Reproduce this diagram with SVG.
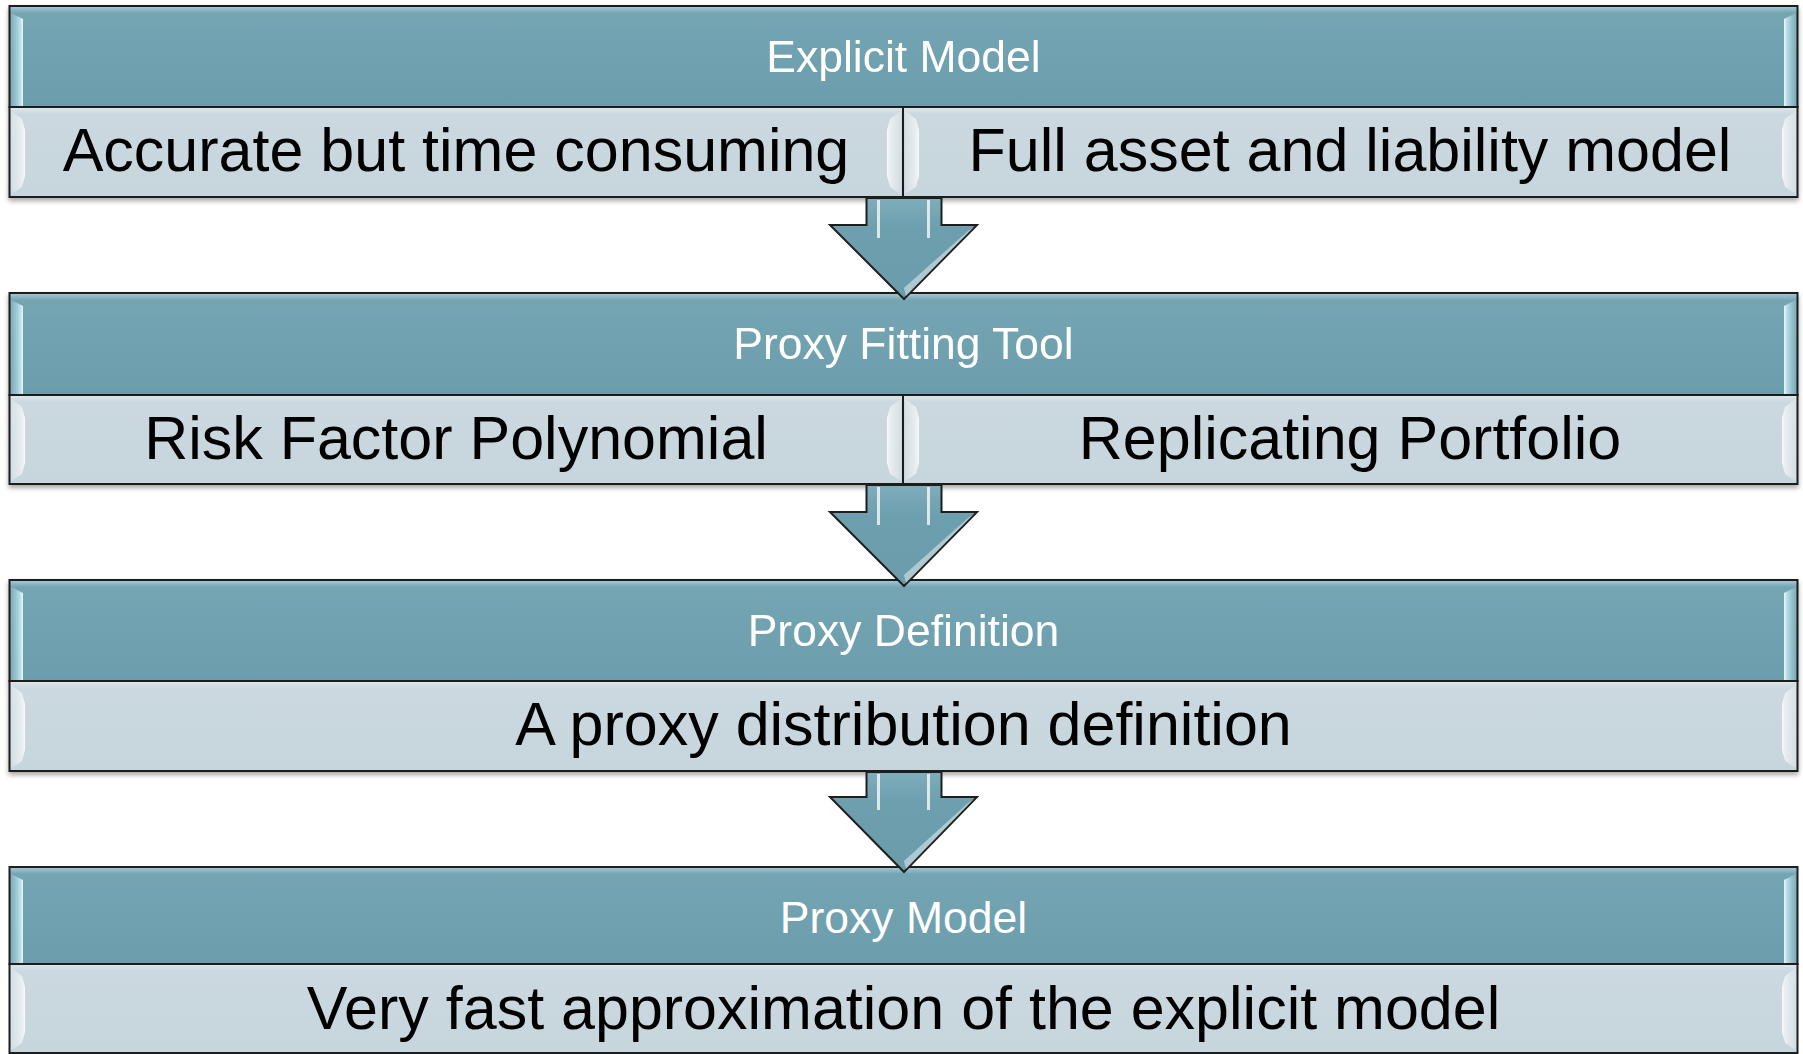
<svg xmlns="http://www.w3.org/2000/svg" width="1803" height="1054" viewBox="0 0 1803 1054">
<defs>
<style>
.hdr{fill:url(#gHdr);stroke:#1e1e1e;stroke-width:2}
.bdy{fill:url(#gBdy);stroke:#1e1e1e;stroke-width:2}
.ht{font-family:"Liberation Sans",Arial,sans-serif;font-size:44.5px;fill:#ffffff;text-anchor:middle}
.bt{font-family:"Liberation Sans",Arial,sans-serif;font-size:61px;fill:#000000;text-anchor:middle}
.hlL{fill:url(#gHlL)}
.hlR{fill:url(#gHlR)}
.bhL{fill:url(#gBhL)}
.bhR{fill:url(#gBhR)}
.arr{fill:url(#gArr);stroke:#1e1e1e;stroke-width:2;stroke-linejoin:miter}
.ash{fill:none;stroke:#ffffff;stroke-opacity:0.75;stroke-width:3}
</style>
<linearGradient id="gHdr" x1="0" y1="0" x2="0" y2="1">
<stop offset="0" stop-color="#a9cbd5"/>
<stop offset="0.07" stop-color="#75a5b3"/>
<stop offset="1" stop-color="#6b9dac"/>
</linearGradient>
<linearGradient id="gBdy" x1="0" y1="0" x2="0" y2="1">
<stop offset="0" stop-color="#dfe8ec"/>
<stop offset="0.08" stop-color="#cbd8df"/>
<stop offset="1" stop-color="#c7d5dc"/>
</linearGradient>
<linearGradient id="gHlL" x1="0" y1="0" x2="1" y2="0">
<stop offset="0" stop-color="#8fbcc8" stop-opacity="0.5"/>
<stop offset="0.8" stop-color="#c6eaf2" stop-opacity="0.9"/>
<stop offset="1" stop-color="#e8fbff"/>
</linearGradient>
<linearGradient id="gHlR" x1="1" y1="0" x2="0" y2="0">
<stop offset="0" stop-color="#8fbcc8" stop-opacity="0.5"/>
<stop offset="0.8" stop-color="#c6eaf2" stop-opacity="0.9"/>
<stop offset="1" stop-color="#e8fbff"/>
</linearGradient>
<linearGradient id="gBhL" x1="0" y1="0" x2="1" y2="0">
<stop offset="0" stop-color="#ffffff" stop-opacity="0.2"/>
<stop offset="0.8" stop-color="#ffffff" stop-opacity="0.6"/>
<stop offset="1" stop-color="#ffffff" stop-opacity="0.9"/>
</linearGradient>
<linearGradient id="gBhR" x1="1" y1="0" x2="0" y2="0">
<stop offset="0" stop-color="#ffffff" stop-opacity="0.2"/>
<stop offset="0.8" stop-color="#ffffff" stop-opacity="0.6"/>
<stop offset="1" stop-color="#ffffff" stop-opacity="0.9"/>
</linearGradient>
<linearGradient id="gArr" x1="0" y1="0" x2="0" y2="1">
<stop offset="0" stop-color="#7fadbb"/>
<stop offset="0.3" stop-color="#6d9fae"/>
<stop offset="1" stop-color="#6a9cab"/>
</linearGradient>
<filter id="sh" x="-2%" y="-5%" width="104%" height="115%">
<feGaussianBlur in="SourceAlpha" stdDeviation="2.5"/>
<feOffset dx="0" dy="3" result="b"/>
<feComponentTransfer><feFuncA type="linear" slope="0.35"/></feComponentTransfer>
<feMerge><feMergeNode/><feMergeNode in="SourceGraphic"/></feMerge>
</filter>
</defs>
<rect width="1803" height="1054" fill="#ffffff"/>

<g id="node-explicit-model" filter="url(#sh)">
<rect class="hdr" x="9.5" y="6" width="1788" height="101"/>
<path class="hlL" d="M11 13 L23 19 L23 106 L11 106 Z"/>
<path class="hlR" d="M1796 13 L1784 19 L1784 106 L1796 106 Z"/>
<text class="ht" x="903.5" y="72">Explicit Model</text>
<rect class="bdy" x="9.5" y="107" width="893.5" height="90"/>
<rect class="bdy" x="903" y="107" width="894.5" height="90"/>
<path class="bhL" d="M11 111 L22 119 L25 130 L25 176 L22 187 L11 194 Z"/>
<path class="bhR" d="M901 111 L890 119 L887 130 L887 176 L890 187 L901 194 Z"/>
<path class="bhL" d="M905 111 L916 119 L919 130 L919 176 L916 187 L905 194 Z"/>
<path class="bhR" d="M1796 111 L1785 119 L1782 130 L1782 176 L1785 187 L1796 194 Z"/>
<text class="bt" x="456" y="171">Accurate but time consuming</text>
<text class="bt" x="1350" y="171">Full asset and liability model</text>
</g>

<g id="node-proxy-fitting-tool" filter="url(#sh)">
<rect class="hdr" x="9.5" y="293" width="1788" height="102"/>
<path class="hlL" d="M11 300 L23 306 L23 394 L11 394 Z"/>
<path class="hlR" d="M1796 300 L1784 306 L1784 394 L1796 394 Z"/>
<text class="ht" x="903.5" y="359">Proxy Fitting Tool</text>
<rect class="bdy" x="9.5" y="395" width="893.5" height="89"/>
<rect class="bdy" x="903" y="395" width="894.5" height="89"/>
<path class="bhL" d="M11 399 L22 407 L25 418 L25 463 L22 474 L11 481 Z"/>
<path class="bhR" d="M901 399 L890 407 L887 418 L887 463 L890 474 L901 481 Z"/>
<path class="bhL" d="M905 399 L916 407 L919 418 L919 463 L916 474 L905 481 Z"/>
<path class="bhR" d="M1796 399 L1785 407 L1782 418 L1782 463 L1785 474 L1796 481 Z"/>
<text class="bt" x="456" y="459">Risk Factor Polynomial</text>
<text class="bt" x="1350" y="459">Replicating Portfolio</text>
</g>

<g id="node-proxy-definition" filter="url(#sh)">
<rect class="hdr" x="9.5" y="580" width="1788" height="101"/>
<path class="hlL" d="M11 587 L23 593 L23 680 L11 680 Z"/>
<path class="hlR" d="M1796 587 L1784 593 L1784 680 L1796 680 Z"/>
<text class="ht" x="903.5" y="646">Proxy Definition</text>
<rect class="bdy" x="9.5" y="681" width="1788" height="90"/>
<path class="bhL" d="M11 685 L22 693 L25 704 L25 750 L22 761 L11 768 Z"/>
<path class="bhR" d="M1796 685 L1785 693 L1782 704 L1782 750 L1785 761 L1796 768 Z"/>
<text class="bt" x="903.5" y="745">A proxy distribution definition</text>
</g>

<g id="node-proxy-model">
<rect class="hdr" x="9.5" y="867" width="1788" height="97"/>
<path class="hlL" d="M11 874 L23 880 L23 963 L11 963 Z"/>
<path class="hlR" d="M1796 874 L1784 880 L1784 963 L1796 963 Z"/>
<text class="ht" x="903.5" y="933">Proxy Model</text>
<rect class="bdy" x="9.5" y="964" width="1788" height="89"/>
<path class="bhL" d="M11 968 L22 976 L25 987 L25 1032 L22 1043 L11 1050 Z"/>
<path class="bhR" d="M1796 968 L1785 976 L1782 987 L1782 1032 L1785 1043 L1796 1050 Z"/>
<text class="bt" x="903.5" y="1029">Very fast approximation of the explicit model</text>
</g>

<g id="connectors">
<g id="arrow-1">
<path class="arr" d="M866.5 198 L941.5 198 L941.5 225 L977 225 L904 299 L830 225 L866.5 225 Z"/>
<line class="ash" x1="878.5" y1="200" x2="878.5" y2="238"/>
<line class="ash" x1="928.5" y1="200" x2="928.5" y2="238"/>
<path d="M968 231 L974 227 L906 296 L904 288 Z" fill="#ffffff" fill-opacity="0.45"/>
</g>
<g id="arrow-2">
<path class="arr" d="M866.5 485 L941.5 485 L941.5 512 L977 512 L904 586 L830 512 L866.5 512 Z"/>
<line class="ash" x1="878.5" y1="487" x2="878.5" y2="525"/>
<line class="ash" x1="928.5" y1="487" x2="928.5" y2="525"/>
<path d="M968 518 L974 514 L906 583 L904 575 Z" fill="#ffffff" fill-opacity="0.45"/>
</g>
<g id="arrow-3">
<path class="arr" d="M866.5 772 L941.5 772 L941.5 797 L977 797 L904 872 L830 797 L866.5 797 Z"/>
<line class="ash" x1="878.5" y1="774" x2="878.5" y2="810"/>
<line class="ash" x1="928.5" y1="774" x2="928.5" y2="810"/>
<path d="M968 803 L974 799 L906 869 L904 861 Z" fill="#ffffff" fill-opacity="0.45"/>
</g>
</g>
</svg>
